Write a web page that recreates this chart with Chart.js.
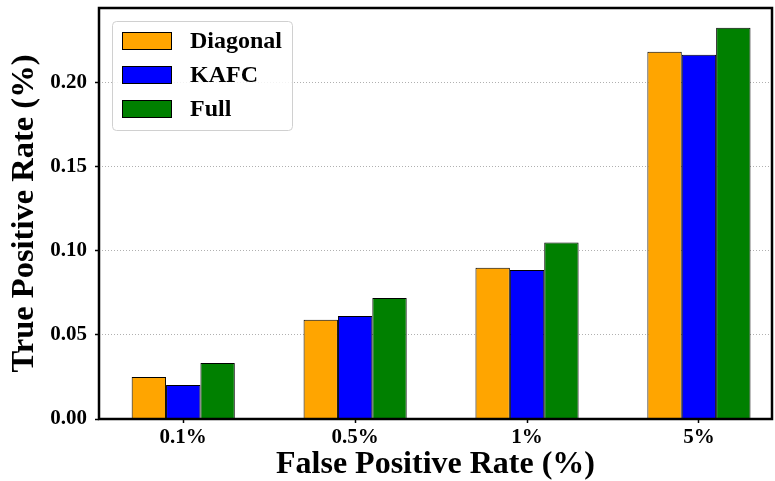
<!DOCTYPE html>
<html>
<head>
<meta charset="utf-8">
<script src="https://cdn.jsdelivr.net/npm/chart.js@4/dist/chart.umd.min.js"></script>
<style>
  html, body { margin: 0; padding: 0; background: #fff; }
  #wrap { width: 775px; height: 481px; }
</style>
</head>
<body>
<div id="wrap"><canvas id="fpr-chart" width="775" height="481"></canvas></div>
<script>
let categories = ["0.1%", "0.5%", "1%", "5%"];
let seriesNames = ["Diagonal", "KAFC", "Full"];
let diagonalValues = [0.0250, 0.0590, 0.0900, 0.2185];
let kafcValues = [0.0202, 0.0613, 0.0887, 0.2168];
let fullValues = [0.0333, 0.0720, 0.1050, 0.2328];
let yTicks = [0.0, 0.05, 0.1, 0.15, 0.2];
let seriesColors = ["#FFA500", "#0000FF", "#008000"];

const serif = "'Liberation Serif', 'DejaVu Serif', serif";

function toPoints(values) {
  return values.map((v, i) => ({ x: i, y: v }));
}

// frame + legend drawn inside the plot area, like the matplotlib original
const frameAndLegend = {
  id: "frameAndLegend",
  afterDraw(chart) {
    const ctx = chart.ctx;
    const a = chart.chartArea;
    ctx.save();
    ctx.strokeStyle = "#000";
    ctx.lineWidth = 2.5;
    ctx.strokeRect(a.left, a.top, a.right - a.left, a.bottom - a.top);

    // legend box
    const lx = a.left + 13, ly = a.top + 13, lw = 180, lh = 109;
    ctx.beginPath();
    ctx.roundRect(lx + 0.5, ly + 0.5, lw, lh, 4);
    ctx.fillStyle = "rgba(255,255,255,0.85)";
    ctx.fill();
    ctx.strokeStyle = "#d0d0d0";
    ctx.lineWidth = 1;
    ctx.stroke();

    ctx.font = "bold 24px " + serif;
    ctx.textBaseline = "middle";
    seriesNames.forEach((name, i) => {
      const cy = ly + 19 + i * 34;
      ctx.fillStyle = seriesColors[i];
      ctx.fillRect(lx + 10, cy - 8, 49, 17);
      ctx.strokeStyle = "#000";
      ctx.lineWidth = 1;
      ctx.strokeRect(lx + 10.5, cy - 7.5, 49, 17);
      ctx.fillStyle = "#000";
      ctx.fillText(name, lx + 78, cy + 2);
    });
    ctx.restore();
  },
};

const CanvasChart = document.getElementById("fpr-chart");

new Chart(CanvasChart, {
  type: "bar",
  data: {
    datasets: [
      { label: seriesNames[0], data: toPoints(diagonalValues) },
      { label: seriesNames[1], data: toPoints(kafcValues) },
      { label: seriesNames[2], data: toPoints(fullValues) },
    ].map((d, i) => ({
      ...d,
      backgroundColor: seriesColors[i],
      borderColor: "#000",
      borderWidth: 1,
      categoryPercentage: 0.6,
      barPercentage: 1.0,
    })),
  },
  options: {
    responsive: false,
    animation: false,
    layout: {
      padding: { left: 0, right: 3, top: 8, bottom: 0 },
    },
    plugins: {
      legend: { display: false },
      tooltip: { enabled: false },
    },
    scales: {
      x: {
        type: "linear",
        offset: false,
        min: -0.49,
        max: 3.425,
        afterBuildTicks: (scale) => {
          scale.ticks = categories.map((_, i) => ({ value: i }));
        },
        afterFit: (scale) => {
          scale.height = 62;
          scale.paddingLeft = 0;
          scale.paddingRight = 0;
        },
        grid: {
          offset: false,
          drawOnChartArea: false,
          drawTicks: true,
          tickLength: 4,
          tickColor: "#000",
          tickWidth: 1.5,
        },
        border: { display: false },
        ticks: {
          padding: 2,
          maxRotation: 0,
          autoSkip: false,
          color: "#000",
          font: { family: serif, size: 21, weight: "bold" },
          callback: (v) => categories[v],
        },
        title: {
          display: true,
          text: "False Positive Rate (%)",
          color: "#000",
          font: { family: serif, size: 32, weight: "bold", lineHeight: 1.0 },
          padding: { top: 0, bottom: 0 },
        },
      },
      y: {
        min: 0,
        max: 0.2446,
        afterBuildTicks: (scale) => {
          scale.ticks = yTicks.map((v) => ({ value: v }));
        },
        afterFit: (scale) => {
          scale.width = 99;
          scale.paddingTop = 0;
          scale.paddingBottom = 0;
        },
        grid: {
          color: "#b0b0b0",
          lineWidth: 1,
          drawTicks: true,
          tickLength: 4,
          tickColor: "#000",
          tickWidth: 1.5,
          tickBorderDash: [],
        },
        border: { display: false, dash: [1, 2] },
        ticks: {
          padding: 8,
          color: "#000",
          font: { family: serif, size: 21, weight: "bold" },
          callback: (v) => v.toFixed(2),
        },
        title: {
          display: true,
          text: "True Positive Rate (%)",
          color: "#000",
          font: { family: serif, size: 32.5, weight: "bold", lineHeight: 1.0 },
          padding: { top: 8, bottom: 0 },
        },
      },
    },
  },
  plugins: [frameAndLegend],
});
</script>
</body>
</html>
